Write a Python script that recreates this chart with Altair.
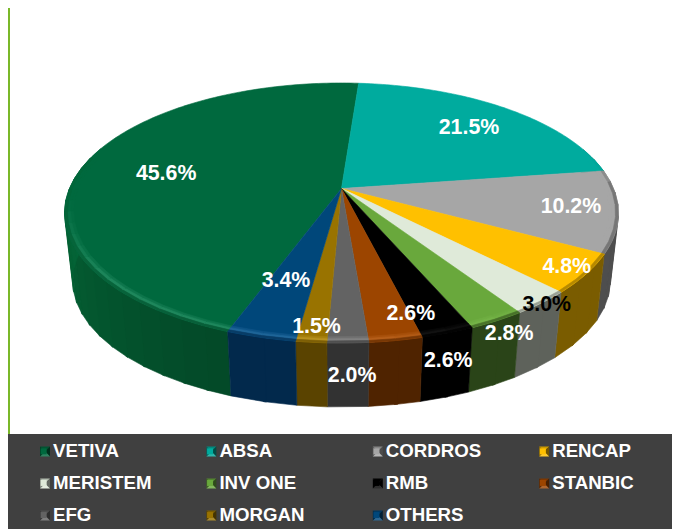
import math
import altair as alt
import pandas as pd

# ---- data ----
names = ["VETIVA", "ABSA", "CORDROS", "RENCAP", "MERISTEM", "INV ONE", "RMB", "STANBIC", "EFG", "MORGAN", "OTHERS"]
shares = [45.6, 21.5, 10.2, 4.8, 3.0, 2.8, 2.6, 2.6, 2.0, 1.5, 3.4]
top_colors = ["#00693e", "#00ab9e", "#a6a6a6", "#ffc000", "#dfead9", "#69a83c", "#000000", "#9c4500", "#636363", "#997300", "#00477a"]
side_colors = ["#034a28", "#006058", "#4e4e4e", "#7a5c00", "#5e625b", "#2a4418", "#000000", "#4f2300", "#323232", "#5a4300", "#02294c"]
label_colors = ["white", "white", "white", "white", "black", "white", "white", "white", "white", "white", "white"]
# label placement: fraction of the radius along the slice's middle, and a small turn in degrees
label_radius = [0.672, 0.7475, 0.833, 0.925, 1.015, 1.073, 1.13, 0.864, 1.162, 0.912, 0.666]
label_turn = [-1.4, 0.7, -0.4, -0.4, -0.4, 0.3, 2.7, -5.0, -0.4, -0.4, 1.6]

# ---- layout of the page (svg starts 8px into the page) ----
W, H = 664, 521
OFF = 8
CX, CY = 341.5 - OFF, 188.5 - OFF
A, B, Q = 272.0, 125.4, 0.1885      # tilted disc seen in perspective
DEPTH, SHRINK = 68.5, 0.971
START = -159.86


def project(theta, r=1.0, dy=0.0, s=1.0):
    t = math.radians(theta)
    u, v = r * math.sin(t), r * math.cos(t)
    den = 1 + Q * v
    return [CX + s * A * u / den, CY + dy - s * B * v / den]


def rgb(h):
    return [int(h[i:i + 2], 16) for i in (1, 3, 5)]


def hexa(c):
    return "#%02x%02x%02x" % tuple(max(0, min(255, round(x))) for x in c)


def mix(c1, c2, t):
    a, b = rgb(c1), rgb(c2)
    return hexa([x + (y - x) * t for x, y in zip(a, b)])


def scale(c, f):
    return hexa([x * f for x in rgb(c)])


def add(c, d):
    return hexa([x + d for x in rgb(c)])


def feature(points, color):
    ring = points + [points[0]]
    return {"type": "Feature", "geometry": {"type": "Polygon", "coordinates": [ring]},
            "properties": {"c": color}}


def clamp(x):
    return max(0.0, min(1.0, x))


edges = [START]
for share in shares:
    edges.append(edges[-1] + share * 3.6)

walls, tops, rims = [], [], []
STEP = 5.0
for i, (c0, c1) in enumerate(zip(edges[:-1], edges[1:])):
    # wedge on the top face
    n = max(2, int((c1 - c0) / 1.0))
    arc = [project(c0 + (c1 - c0) * k / n) for k in range(n + 1)]
    tops.append(feature([project(0, 0)] + arc, top_colors[i]))
    # strips of the wall and of the rounded rim
    n = max(1, int(round((c1 - c0) / STEP)))
    for k in range(n):
        t0 = c0 + (c1 - c0) * k / n
        t1 = c0 + (c1 - c0) * (k + 1) / n
        m = ((t0 + t1) / 2) % 360
        wall = side_colors[i]
        if 70 < m < 290:
            f = 1 + 0.38 * clamp((m - 205) / 70)
            wall = scale(side_colors[i], f)
            # a strip slightly overlaps its neighbour so that no seam shows
            walls.append(feature([project(t0 - 0.6 if k else t0), project(t1),
                                  project(t1, 1, DEPTH, SHRINK),
                                  project(t0 - 0.6 if k else t0, 1, DEPTH, SHRINK)], wall))
        if 78 < m < 285:
            glow = 30 * clamp((265 - m) / 35) * clamp((m - 140) / 40)
            base = top_colors[i]
            dark = clamp((m - 78) / 12)
            bands = [(0.968, 0.978, add(base, glow * 0.45)),
                     (0.978, 0.99, add(base, glow)),
                     (0.99, 1.0, mix(add(base, glow * 0.5), wall, 0.55 * dark))]
            for r0, r1, col in bands:
                rims.append(feature([project(t0, r0), project(t1, r0), project(t1, r1), project(t0, r1)], col))


# background panels
def box(x0, y0, x1, y1, color):
    return feature([[x0, y0], [x1, y0], [x1, y1], [x0, y1]], color)


GREEN = "#7ab829"
DARK = "#404040"
panels = [box(0, 0, W, 434 - OFF, GREEN),
          box(10 - OFF, 0, W, 434 - OFF, "#ffffff")]

# pyramid look of the legend keys
KEY_X0, KEY_DX, KEY_Y0, KEY_DY, KEY = 40 - OFF, 166.4, 446.5 - OFF, 32.0, 10
keys = []
for i, col in enumerate(top_colors):
    x = KEY_X0 + KEY_DX * (i % 4)
    y = KEY_Y0 + KEY_DY * (i // 4)
    mid = [x + KEY / 2, y + KEY / 2]
    nw, ne, se, sw = [x, y], [x + KEY, y], [x + KEY, y + KEY], [x, y + KEY]
    keys += [feature([nw, ne, mid], scale(col, 0.8)),
             feature([ne, se, mid], scale(col, 0.45)),
             feature([se, sw, mid], mix(col, "#ffffff", 0.18)),
             feature([sw, nw, mid], scale(col, 0.6))]


def shapes(features, stroke=True):
    enc = {"fill": alt.Fill("properties.c:N", scale=None)}
    if stroke:
        enc["stroke"] = alt.Stroke("properties.c:N", scale=None)
    return (alt.Chart(alt.Data(values=features))
            .mark_geoshape(strokeWidth=0.6 if stroke else 0)
            .encode(**enc).project(type="identity", scale=1, translate=[0, 0]))


legend_df = pd.DataFrame({"name": names})
legend_layer = (alt.Chart(legend_df).mark_point(filled=True, shape="square", size=0, opacity=0)
                .encode(x=alt.value(0), y=alt.value(0),
                        color=alt.Color("name:N", sort=None,
                                        scale=alt.Scale(domain=names, range=top_colors),
                                        legend=alt.Legend(
                                            title=None, orient="none", legendX=KEY_X0 - 5.67, legendY=KEY_Y0 - 5,
                                            direction="horizontal", columns=4, gridAlign="all",
                                            symbolType="square", symbolSize=36, symbolStrokeWidth=0,
                                            symbolOpacity=1, labelOffset=0,
                                            labelColor="white", labelFont="Liberation Sans",
                                            labelFontWeight="bold", labelFontSize=18.67, labelLimit=300,
                                            columnPadding=48.4, rowPadding=12.1, padding=0))))

mids = [(a + b) / 2 for a, b in zip(edges[:-1], edges[1:])]
spots = [project(m + t, r) for m, t, r in zip(mids, label_turn, label_radius)]
labels_df = pd.DataFrame({"text": ["%.1f%%" % s for s in shares],
                          "x": [p[0] for p in spots], "y": [p[1] for p in spots],
                          "c": label_colors})
label_layer = (alt.Chart(labels_df)
               .mark_text(font="Liberation Sans", fontWeight="bold", fontSize=21.33, align="center",
                          baseline="middle", dy=0.8)
               .encode(x=alt.X("x:Q", scale=None, axis=None), y=alt.Y("y:Q", scale=None, axis=None),
                       text="text:N", color=alt.Color("c:N", scale=None)))

chart = (alt.layer(legend_layer, shapes(panels, False), shapes(walls), shapes(tops), shapes(rims),
                   shapes(keys, False), label_layer)
         .properties(width=W, height=H, background=DARK, padding=0,
                     autosize=alt.AutoSizeParams(type="none"))
         .configure_view(stroke=None, continuousWidth=W, continuousHeight=H))

chart.save("out.html", embed_options={"renderer": "svg", "actions": False})
